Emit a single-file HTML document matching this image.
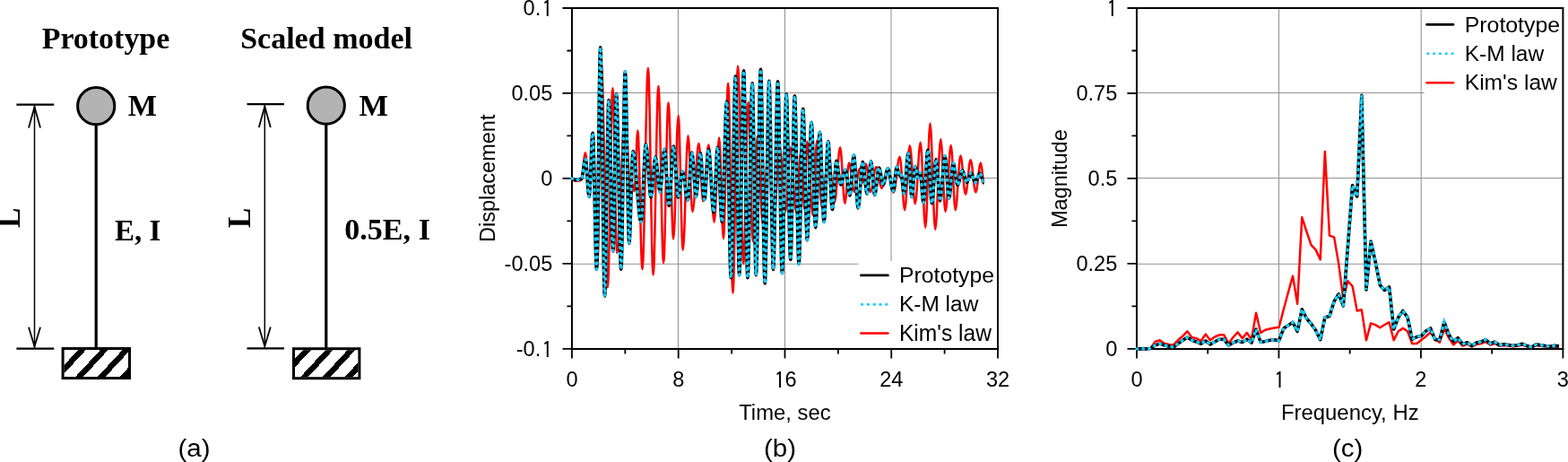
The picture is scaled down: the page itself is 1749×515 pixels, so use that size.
<!DOCTYPE html>
<html><head><meta charset="utf-8"><title>Figure</title>
<style>html,body{margin:0;padding:0;background:#fff;overflow:hidden}svg{display:block}</style>
</head><body>
<svg width="1749" height="515" viewBox="0 0 1749 515">
<rect width="1749" height="515" fill="#fff"/>
<text transform="translate(46.69,53.59) scale(0.9886,1)" font-family="'Liberation Serif', 'Times New Roman', serif" font-weight="bold" font-size="34.34">Prototype</text>
<text transform="translate(268.13,53.7) scale(0.992,1)" font-family="'Liberation Serif', 'Times New Roman', serif" font-weight="bold" font-size="34.3">Scaled model</text>
<text transform="translate(142.69,129) scale(1.0020,1)" font-family="'Liberation Serif', 'Times New Roman', serif" font-weight="bold" font-size="34.15">M</text>
<text transform="translate(400.48,129) scale(1.0027,1)" font-family="'Liberation Serif', 'Times New Roman', serif" font-weight="bold" font-size="34.46">M</text>
<text transform="translate(128,267.68) scale(0.9629,1)" font-family="'Liberation Serif', 'Times New Roman', serif" font-weight="bold" font-size="34.32">E, I</text>
<text transform="translate(384.24,267.49) scale(0.9955,1)" font-family="'Liberation Serif', 'Times New Roman', serif" font-weight="bold" font-size="34.27">0.5E, I</text>
<text transform="translate(22.4,254) rotate(-90) scale(0.9451,1)" font-family="'Liberation Serif', 'Times New Roman', serif" font-weight="bold" font-size="35.38">L</text>
<text transform="translate(279.3,254) rotate(-90) scale(0.9384,1)" font-family="'Liberation Serif', 'Times New Roman', serif" font-weight="bold" font-size="35.46">L</text>
<path d="M18.4 116.6H60.3M18.4 388.6H60.3" stroke="#000" stroke-width="2.1" fill="none"/>
<path d="M38.5 117.6V387.6" stroke="#000" stroke-width="1.5" fill="none"/>
<path d="M32 142.4L38.5 119.2L45 142.4M32 364.8L38.5 386.2L45 364.8" stroke="#000" stroke-width="1.8" fill="none" stroke-linejoin="miter" stroke-miterlimit="20"/>
<path d="M107.2 138.2V388" stroke="#000" stroke-width="3.2"/>
<circle cx="107.2" cy="118.2" r="20.6" fill="#b3b3b3" stroke="#000" stroke-width="3"/>
<clipPath id="c1"><rect x="71.6" y="390" width="71.4" height="30"/></clipPath>
<path clip-path="url(#c1)" d="M26.53 380L-19.7 430M51.28 380L5.05 430M76.03 380L29.8 430M100.78 380L54.55 430M125.53 380L79.3 430M150.28 380L104.05 430M175.03 380L128.8 430M199.78 380L153.55 430" stroke="#000" stroke-width="6.4" fill="none" shape-rendering="crispEdges"/>
<rect x="70.1" y="388.5" width="74.4" height="33" fill="none" stroke="#000" stroke-width="3.0"/>
<path d="M275.5 116.1H317M275.5 388.4H317" stroke="#000" stroke-width="2.1" fill="none"/>
<path d="M295.3 117.1V387.4" stroke="#000" stroke-width="1.5" fill="none"/>
<path d="M288.8 141.9L295.3 118.7L301.8 141.9M288.8 364.6L295.3 386L301.8 364.6" stroke="#000" stroke-width="1.8" fill="none" stroke-linejoin="miter" stroke-miterlimit="20"/>
<path d="M363.8 137.7V388.2" stroke="#000" stroke-width="3.2"/>
<circle cx="363.8" cy="117.7" r="20.6" fill="#b3b3b3" stroke="#000" stroke-width="3"/>
<clipPath id="c2"><rect x="329" y="390.2" width="70.4" height="30"/></clipPath>
<path clip-path="url(#c2)" d="M302.2 380.2L255.97 430.2M326.95 380.2L280.72 430.2M351.7 380.2L305.47 430.2M376.45 380.2L330.22 430.2M401.2 380.2L354.97 430.2M425.95 380.2L379.72 430.2M450.7 380.2L404.47 430.2" stroke="#000" stroke-width="6.4" fill="none" shape-rendering="crispEdges"/>
<rect x="327.5" y="388.7" width="73.4" height="33" fill="none" stroke="#000" stroke-width="3.0"/>
<text transform="translate(216.45,508.9) scale(1.0400,1)" font-family="'Liberation Sans', Arial, Helvetica, sans-serif" font-size="28.40" text-anchor="middle">(a)</text>
<text transform="translate(870.05,508.9) scale(1.0400,1)" font-family="'Liberation Sans', Arial, Helvetica, sans-serif" font-size="28.40" text-anchor="middle">(b)</text>
<text transform="translate(1503.2,508.9) scale(1.0400,1)" font-family="'Liberation Sans', Arial, Helvetica, sans-serif" font-size="28.40" text-anchor="middle">(c)</text>
<path d="M756.5 9V388.9M875.5 9V388.9M994 9V388.9M637.95 103.5H1113M637.95 198.5H1113M637.95 294.3H1113" stroke="#929292" stroke-width="1.05" fill="none"/>
<rect x="957.5" y="291" width="155.5" height="97.9" fill="#fff"/>
<path d="M637.95 9H1113V388.9H637.95Z" stroke="#000" stroke-width="2" fill="none" stroke-linejoin="miter"/>
<path d="M637.95 388.9v10.5M756.71 388.9v10.5M875.48 388.9v10.5M994.24 388.9v10.5M1113 388.9v10.5M697.33 388.9v5.5M816.09 388.9v5.5M934.86 388.9v5.5M1053.62 388.9v5.5M637.95 9h-10.5M637.95 103.97h-10.5M637.95 198.95h-10.5M637.95 293.92h-10.5M637.95 388.9h-10.5M637.95 56.49h-5.5M637.95 151.46h-5.5M637.95 246.44h-5.5M637.95 341.41h-5.5" stroke="#000" stroke-width="1.8" fill="none"/>
<path d="M637.8 199.6C639.14 199.6 640.16 201.8 641.5 201.8C642.95 201.8 644.05 201.6 645.5 201.6C646.59 201.6 647.41 200.5 648.5 200.5C650.14 200.5 651.36 170.2 653 170.2C654.56 170.2 655.74 218 657.3 218C658.83 218 659.97 148 661.5 148C663.24 148 664.56 296 666.3 296C667.94 296 669.16 72 670.8 72C673.34 72 675.26 320.2 677.8 320.2C679.84 320.2 681.36 98.3 683.4 98.3C685.18 98.3 686.52 282 688.3 282C691.64 282 694.16 125 697.5 125C699.68 125 701.32 222 703.5 222C704.23 222 704.77 205 705.5 205C706.26 205 706.84 213.3 707.6 213.3C708.94 213.3 709.96 145.4 711.3 145.4C713.19 145.4 714.61 300.2 716.5 300.2C718.83 300.2 720.57 75.7 722.9 75.7C724.97 75.7 726.53 306.6 728.6 306.6C730.71 306.6 732.29 96 734.4 96C736.47 96 738.03 293.2 740.1 293.2C742.06 293.2 743.54 114.6 745.5 114.6C747.57 114.6 749.13 266.5 751.2 266.5C753.16 266.5 754.64 129 756.6 129C758.49 129 759.91 278.6 761.8 278.6C763.87 278.6 765.43 151.2 767.5 151.2C769.28 151.2 770.62 236 772.4 236C774.98 236 776.92 159.7 779.5 159.7C781.21 159.7 782.49 224.2 784.2 224.2C786.45 224.2 788.15 161.2 790.4 161.2C792.65 161.2 794.35 247.5 796.6 247.5C798.64 247.5 800.16 153.5 802.2 153.5C803.91 153.5 805.19 266.2 806.9 266.2C808.83 266.2 810.27 92.8 812.2 92.8C814.13 92.8 815.57 326.8 817.5 326.8C819.5 326.8 821 73.6 823 73.6C825.29 73.6 827.01 294.1 829.3 294.1C831.23 294.1 832.67 114 834.6 114C836.6 114 838.1 269.3 840.1 269.3C841.81 269.3 843.09 151.9 844.8 151.9C847.05 151.9 848.75 250 851 250C853.18 250 854.82 162 857 162C859.18 162 860.82 242 863 242C865.54 242 867.46 165 870 165C872.18 165 873.82 236 876 236C878.11 236 879.69 164.3 881.8 164.3C884.05 164.3 885.75 236 888 236C890 236 891.5 168 893.5 168C894.88 168 895.92 233.5 897.3 233.5C898.43 233.5 899.27 157.5 900.4 157.5C902.65 157.5 904.35 239.7 906.6 239.7C908.31 239.7 909.59 156.6 911.3 156.6C913.37 156.6 914.93 232 917 232C919.54 232 921.46 172 924 172C926.54 172 928.46 225 931 225C933.22 225 934.88 164.3 937.1 164.3C939.03 164.3 940.47 226.7 942.4 226.7C944.07 226.7 945.33 181.4 947 181.4C949.18 181.4 950.82 214 953 214C955.18 214 956.82 188 959 188C960.09 188 960.91 204 962 204C963.34 204 964.36 182.4 965.7 182.4C967.63 182.4 969.07 214 971 214C973.36 214 975.14 186 977.5 186C979.61 186 981.19 210 983.3 210C985.84 210 987.76 187.8 990.3 187.8C992.66 187.8 994.44 214.6 996.8 214.6C999.27 214.6 1001.13 174.8 1003.6 174.8C1005.64 174.8 1007.16 234.2 1009.2 234.2C1011.24 234.2 1012.76 162.2 1014.8 162.2C1016.98 162.2 1018.62 227.2 1020.8 227.2C1022.94 227.2 1024.56 158.8 1026.7 158.8C1028.74 158.8 1030.26 253.7 1032.3 253.7C1034.19 253.7 1035.61 137.4 1037.5 137.4C1039.57 137.4 1041.13 256 1043.2 256C1045.42 256 1047.08 155.2 1049.3 155.2C1051.23 155.2 1052.67 236 1054.6 236C1056.82 236 1058.48 162 1060.7 162C1062.52 162 1063.88 234.3 1065.7 234.3C1067.77 234.3 1069.33 173.5 1071.4 173.5C1073.44 173.5 1074.96 216.5 1077 216.5C1079.04 216.5 1080.56 178.2 1082.6 178.2C1084.67 178.2 1086.23 214.3 1088.3 214.3C1090.37 214.3 1091.93 181.6 1094 181.6C1095.27 181.6 1096.23 203.5 1097.5 203.5" stroke="#ff0000" stroke-width="2.5" fill="none" stroke-linejoin="round"/>
<path d="M637.8 199C639.14 199 640.16 200.6 641.5 200.6C642.95 200.6 644.05 200.3 645.5 200.3C646.59 200.3 647.41 199.5 648.5 199.5C650.14 199.5 651.36 177.5 653 177.5C654.49 177.5 655.61 219.5 657.1 219.5C658.55 219.5 659.65 148.3 661.1 148.3C662.7 148.3 663.9 300.2 665.5 300.2C667.03 300.2 668.17 52.7 669.7 52.7C671.44 52.7 672.76 330 674.5 330C676.14 330 677.36 111.6 679 111.6C680.74 111.6 682.06 280 683.8 280C685.14 280 686.16 104.9 687.5 104.9C689.43 104.9 690.87 300.2 692.8 300.2C694.44 300.2 695.66 80 697.3 80C698.94 80 700.16 271.3 701.8 271.3C703.33 271.3 704.47 168.5 706 168.5C709.27 168.5 711.73 247.3 715 247.3C716.96 247.3 718.44 160.8 720.4 160.8C722.51 160.8 724.09 220 726.2 220C727.98 220 729.32 174.9 731.1 174.9C732.95 174.9 734.35 214 736.2 214C737.98 214 739.32 166.2 741.1 166.2C742.99 166.2 744.41 229.4 746.3 229.4C748.08 229.4 749.42 163.1 751.2 163.1C753.13 163.1 754.57 220 756.5 220C758.24 220 759.56 191 761.3 191C763.41 191 764.99 223.2 767.1 223.2C768.81 223.2 770.09 170 771.8 170C773.47 170 774.73 219.5 776.4 219.5C778.11 219.5 779.39 170.6 781.1 170.6C782.77 170.6 784.03 222.6 785.7 222.6C787.41 222.6 788.69 166.8 790.4 166.8C792.44 166.8 793.96 236.6 796 236.6C797.6 236.6 798.8 164.3 800.4 164.3C802.18 164.3 803.52 247.5 805.3 247.5C807.23 247.5 808.67 113 810.6 113C812.31 113 813.59 309.7 815.3 309.7C817.12 309.7 818.48 85.1 820.3 85.1C821.86 85.1 823.04 306.6 824.6 306.6C826.42 306.6 827.78 78.9 829.6 78.9C831.16 78.9 832.34 309.7 833.9 309.7C835.83 309.7 837.27 92.8 839.2 92.8C840.69 92.8 841.81 306.6 843.3 306.6C845.19 306.6 846.61 77.3 848.5 77.3C850.21 77.3 851.49 315.9 853.2 315.9C854.91 315.9 856.19 90.4 857.9 90.4C859.57 90.4 860.83 300.4 862.5 300.4C864.35 300.4 865.75 90.9 867.6 90.9C869.34 90.9 870.66 304.4 872.4 304.4C874.11 304.4 875.39 104.7 877.1 104.7C878.81 104.7 880.09 289.5 881.8 289.5C883.47 289.5 884.73 106.8 886.4 106.8C888.11 106.8 889.39 294.1 891.1 294.1C892.77 294.1 894.03 121.4 895.7 121.4C897.41 121.4 898.69 267.7 900.4 267.7C902.11 267.7 903.39 136.4 905.1 136.4C906.77 136.4 908.03 253.7 909.7 253.7C911.41 253.7 912.69 147.2 914.4 147.2C916.11 147.2 917.39 247.5 919.1 247.5C920.77 247.5 922.03 157.5 923.7 157.5C925.41 157.5 926.69 233.5 928.4 233.5C930.07 233.5 931.33 179.3 933 179.3C934.71 179.3 935.99 206 937.7 206C939.63 206 941.07 189.2 943 189.2C944.82 189.2 946.18 218 948 218C949.56 218 950.74 173 952.3 173C954.12 173 955.48 232 957.3 232C959.08 232 960.42 180.3 962.2 180.3C963.98 180.3 965.32 216 967.1 216C968.74 216 969.96 179.7 971.6 179.7C973.05 179.7 974.15 217.5 975.6 217.5C977.38 217.5 978.72 187 980.5 187C982.21 187 983.49 206 985.2 206C987.05 206 988.45 187.7 990.3 187.7C992.44 187.7 994.06 213 996.2 213C997.69 213 998.81 186 1000.3 186C1001.46 186 1002.34 196 1003.5 196C1004.05 196 1004.45 194.5 1005 194.5C1006.27 194.5 1007.23 216 1008.5 216C1010.14 216 1011.36 170.5 1013 170.5C1014.49 170.5 1015.61 219.5 1017.1 219.5C1018.52 219.5 1019.58 185.3 1021 185.3C1022.09 185.3 1022.91 198 1024 198C1024.87 198 1025.53 192.5 1026.4 192.5C1027.71 192.5 1028.69 226 1030 226C1031.82 226 1033.18 167.3 1035 167.3C1036.64 167.3 1037.86 226.6 1039.5 226.6C1041.17 226.6 1042.43 177.6 1044.1 177.6C1045.7 177.6 1046.9 223.9 1048.5 223.9C1050.5 223.9 1052 173.5 1054 173.5C1055.67 173.5 1056.93 221.2 1058.6 221.2C1060.27 221.2 1061.53 181.7 1063.2 181.7C1064.98 181.7 1066.32 206.2 1068.1 206.2C1070.06 206.2 1071.54 189.9 1073.5 189.9C1075.28 189.9 1076.62 203.5 1078.4 203.5C1080.11 203.5 1081.39 192.6 1083.1 192.6C1084.77 192.6 1086.03 203.5 1087.7 203.5C1089.66 203.5 1091.14 193.1 1093.1 193.1C1094.7 193.1 1095.9 204 1097.5 204" stroke="#000" stroke-width="3.6" fill="none" stroke-linejoin="round"/>
<path d="M637.8 199C639.14 199 640.16 200.6 641.5 200.6C642.95 200.6 644.05 200.3 645.5 200.3C646.59 200.3 647.41 199.5 648.5 199.5C650.14 199.5 651.36 177.5 653 177.5C654.49 177.5 655.61 219.5 657.1 219.5C658.55 219.5 659.65 148.3 661.1 148.3C662.7 148.3 663.9 300.2 665.5 300.2C667.03 300.2 668.17 52.7 669.7 52.7C671.44 52.7 672.76 330 674.5 330C676.14 330 677.36 111.6 679 111.6C680.74 111.6 682.06 280 683.8 280C685.14 280 686.16 104.9 687.5 104.9C689.43 104.9 690.87 300.2 692.8 300.2C694.44 300.2 695.66 80 697.3 80C698.94 80 700.16 271.3 701.8 271.3C703.33 271.3 704.47 168.5 706 168.5C709.27 168.5 711.73 247.3 715 247.3C716.96 247.3 718.44 160.8 720.4 160.8C722.51 160.8 724.09 220 726.2 220C727.98 220 729.32 174.9 731.1 174.9C732.95 174.9 734.35 214 736.2 214C737.98 214 739.32 166.2 741.1 166.2C742.99 166.2 744.41 229.4 746.3 229.4C748.08 229.4 749.42 163.1 751.2 163.1C753.13 163.1 754.57 220 756.5 220C758.24 220 759.56 191 761.3 191C763.41 191 764.99 223.2 767.1 223.2C768.81 223.2 770.09 170 771.8 170C773.47 170 774.73 219.5 776.4 219.5C778.11 219.5 779.39 170.6 781.1 170.6C782.77 170.6 784.03 222.6 785.7 222.6C787.41 222.6 788.69 166.8 790.4 166.8C792.44 166.8 793.96 236.6 796 236.6C797.6 236.6 798.8 164.3 800.4 164.3C802.18 164.3 803.52 247.5 805.3 247.5C807.23 247.5 808.67 113 810.6 113C812.31 113 813.59 309.7 815.3 309.7C817.12 309.7 818.48 85.1 820.3 85.1C821.86 85.1 823.04 306.6 824.6 306.6C826.42 306.6 827.78 78.9 829.6 78.9C831.16 78.9 832.34 309.7 833.9 309.7C835.83 309.7 837.27 92.8 839.2 92.8C840.69 92.8 841.81 306.6 843.3 306.6C845.19 306.6 846.61 77.3 848.5 77.3C850.21 77.3 851.49 315.9 853.2 315.9C854.91 315.9 856.19 90.4 857.9 90.4C859.57 90.4 860.83 300.4 862.5 300.4C864.35 300.4 865.75 90.9 867.6 90.9C869.34 90.9 870.66 304.4 872.4 304.4C874.11 304.4 875.39 104.7 877.1 104.7C878.81 104.7 880.09 289.5 881.8 289.5C883.47 289.5 884.73 106.8 886.4 106.8C888.11 106.8 889.39 294.1 891.1 294.1C892.77 294.1 894.03 121.4 895.7 121.4C897.41 121.4 898.69 267.7 900.4 267.7C902.11 267.7 903.39 136.4 905.1 136.4C906.77 136.4 908.03 253.7 909.7 253.7C911.41 253.7 912.69 147.2 914.4 147.2C916.11 147.2 917.39 247.5 919.1 247.5C920.77 247.5 922.03 157.5 923.7 157.5C925.41 157.5 926.69 233.5 928.4 233.5C930.07 233.5 931.33 179.3 933 179.3C934.71 179.3 935.99 206 937.7 206C939.63 206 941.07 189.2 943 189.2C944.82 189.2 946.18 218 948 218C949.56 218 950.74 173 952.3 173C954.12 173 955.48 232 957.3 232C959.08 232 960.42 180.3 962.2 180.3C963.98 180.3 965.32 216 967.1 216C968.74 216 969.96 179.7 971.6 179.7C973.05 179.7 974.15 217.5 975.6 217.5C977.38 217.5 978.72 187 980.5 187C982.21 187 983.49 206 985.2 206C987.05 206 988.45 187.7 990.3 187.7C992.44 187.7 994.06 213 996.2 213C997.69 213 998.81 186 1000.3 186C1001.46 186 1002.34 196 1003.5 196C1004.05 196 1004.45 194.5 1005 194.5C1006.27 194.5 1007.23 216 1008.5 216C1010.14 216 1011.36 170.5 1013 170.5C1014.49 170.5 1015.61 219.5 1017.1 219.5C1018.52 219.5 1019.58 185.3 1021 185.3C1022.09 185.3 1022.91 198 1024 198C1024.87 198 1025.53 192.5 1026.4 192.5C1027.71 192.5 1028.69 226 1030 226C1031.82 226 1033.18 167.3 1035 167.3C1036.64 167.3 1037.86 226.6 1039.5 226.6C1041.17 226.6 1042.43 177.6 1044.1 177.6C1045.7 177.6 1046.9 223.9 1048.5 223.9C1050.5 223.9 1052 173.5 1054 173.5C1055.67 173.5 1056.93 221.2 1058.6 221.2C1060.27 221.2 1061.53 181.7 1063.2 181.7C1064.98 181.7 1066.32 206.2 1068.1 206.2C1070.06 206.2 1071.54 189.9 1073.5 189.9C1075.28 189.9 1076.62 203.5 1078.4 203.5C1080.11 203.5 1081.39 192.6 1083.1 192.6C1084.77 192.6 1086.03 203.5 1087.7 203.5C1089.66 203.5 1091.14 193.1 1093.1 193.1C1094.7 193.1 1095.9 204 1097.5 204" stroke="#12cdfd" stroke-width="3.4" fill="none" stroke-dasharray="0.9 5.9" stroke-linecap="round"/>
<path d="M960.4 306.9H990.4" stroke="#000" stroke-width="2.7" stroke-linecap="round"/>
<path d="M961.2 339.4H991.7" stroke="#12cdfd" stroke-width="2.6" stroke-dasharray="0.8 6.0" stroke-linecap="round"/>
<path d="M960.3 371.5H990.5" stroke="#ff0000" stroke-width="2.4" stroke-linecap="round"/>
<text transform="translate(1002.91,315.4) scale(1.0223,1)" font-family="'Liberation Sans', Arial, Helvetica, sans-serif" font-size="24.27">Prototype</text>
<text transform="translate(1002.94,347.3) scale(1.0215,1)" font-family="'Liberation Sans', Arial, Helvetica, sans-serif" font-size="23.98">K-M law</text>
<text transform="translate(1002.93,379.9) scale(0.9904,1)" font-family="'Liberation Sans', Arial, Helvetica, sans-serif" font-size="24.85">Kim&#39;s law</text>
<text transform="translate(583.54,17.45) scale(0.9660,1)" font-family="'Liberation Sans', Arial, Helvetica, sans-serif" font-size="24.40">0.</text><text transform="translate(604.62,18.68) scale(0.9660,1)" font-family="IPAGothic, 'Liberation Sans', sans-serif" font-size="24.60">1</text>
<text transform="translate(616.3,112.42) scale(0.9660,1)" font-family="'Liberation Sans', Arial, Helvetica, sans-serif" font-size="24.40" text-anchor="end">0.05</text>
<text transform="translate(616.3,207.4) scale(0.9660,1)" font-family="'Liberation Sans', Arial, Helvetica, sans-serif" font-size="24.40" text-anchor="end">0</text>
<text transform="translate(616.3,302.37) scale(0.9660,1)" font-family="'Liberation Sans', Arial, Helvetica, sans-serif" font-size="24.40" text-anchor="end">-0.05</text>
<text transform="translate(575.69,397.35) scale(0.9660,1)" font-family="'Liberation Sans', Arial, Helvetica, sans-serif" font-size="24.40">-0.</text><text transform="translate(604.62,398.58) scale(0.9660,1)" font-family="IPAGothic, 'Liberation Sans', sans-serif" font-size="24.60">1</text>
<text transform="translate(637.95,431.4) scale(0.9660,1)" font-family="'Liberation Sans', Arial, Helvetica, sans-serif" font-size="24.40" text-anchor="middle">0</text>
<text transform="translate(756.71,431.4) scale(0.9660,1)" font-family="'Liberation Sans', Arial, Helvetica, sans-serif" font-size="24.40" text-anchor="middle">8</text>
<text transform="translate(863.8,432.63) scale(0.9660,1)" font-family="IPAGothic, 'Liberation Sans', sans-serif" font-size="24.60">1</text><text transform="translate(875.48,431.4) scale(0.9660,1)" font-family="'Liberation Sans', Arial, Helvetica, sans-serif" font-size="24.40">6</text>
<text transform="translate(994.24,431.4) scale(0.9660,1)" font-family="'Liberation Sans', Arial, Helvetica, sans-serif" font-size="24.40" text-anchor="middle">24</text>
<text transform="translate(1113,431.4) scale(0.9660,1)" font-family="'Liberation Sans', Arial, Helvetica, sans-serif" font-size="24.40" text-anchor="middle">32</text>
<text transform="translate(824.2,468) scale(0.9592,1)" font-family="'Liberation Sans', Arial, Helvetica, sans-serif" font-size="24.85">Time, sec</text>
<text transform="translate(551.68,270.08) rotate(-90) scale(1.0055,1)" font-family="'Liberation Sans', Arial, Helvetica, sans-serif" font-size="23.42">Displacement</text>
<path d="M1426.5 9V388.9M1585.2 9V388.9M1267.95 294.3H1743.4M1267.95 198.5H1743.4M1267.95 103.5H1743.4" stroke="#929292" stroke-width="1.05" fill="none"/>
<rect x="1588.6" y="9" width="154.8" height="97.5" fill="#fff"/>
<path d="M1267.95 9H1743.4V388.9H1267.95Z" stroke="#000" stroke-width="2" fill="none" stroke-linejoin="miter"/>
<path d="M1267.95 388.9v10.5M1426.43 388.9v10.5M1584.92 388.9v10.5M1743.4 388.9v10.5M1347.19 388.9v5.5M1505.68 388.9v5.5M1664.16 388.9v5.5M1267.95 388.9h-10.5M1267.95 293.92h-10.5M1267.95 198.95h-10.5M1267.95 103.98h-10.5M1267.95 9h-10.5M1267.95 341.41h-5.5M1267.95 246.44h-5.5M1267.95 151.46h-5.5M1267.95 56.49h-5.5" stroke="#000" stroke-width="1.8" fill="none"/>
<path d="M1267.95 388.9L1273.07 388.9L1278.19 388.9L1283.31 388.2L1288.43 380.9L1293.55 379.3L1298.67 382.7L1303.79 384L1308.91 384.4L1314.03 379L1319.15 374.8L1324.27 369.3L1329.39 376L1334.51 377.1L1339.63 380L1344.75 372.6L1349.87 379.3L1354.99 375.5L1360.11 373.3L1365.23 373.3L1370.35 382.7L1375.47 376L1380.59 370.4L1385.71 377.1L1390.83 371L1395.95 378.2L1401.07 348.7L1406.19 371L1411.31 367.7L1416.43 366.5L1421.55 365.5L1426.67 364.8L1431.79 345L1436.91 326L1442.03 307.6L1447.15 338.7L1452.27 242.2L1457.39 258L1462.51 273.1L1467.63 278.4L1472.75 289.4L1477.87 168.9L1482.99 262.6L1488.11 264.4L1493.23 294.3L1498.35 333L1503.47 313.2L1508.59 319.1L1513.71 346.5L1518.83 345.2L1523.95 379.3L1529.07 360.4L1534.19 362.1L1539.31 365.3L1544.43 362L1549.55 359.2L1554.67 379.3L1559.79 369.3L1564.91 365.9L1570.03 369.3L1575.15 383.1L1580.27 383.1L1585.39 379L1590.51 375L1595.63 370.4L1600.75 378L1605.87 381.7L1610.99 366.6L1616.11 376.7L1621.23 384.3L1626.35 379.8L1631.47 385.5L1636.59 383.5L1641.71 386.5L1646.83 384L1651.95 383L1657.07 381L1662.19 384.5L1667.31 383L1672.43 385.5L1677.55 385L1682.67 385.5L1687.79 386.2L1692.91 385.7L1698.03 384.5L1703.15 386.2L1708.27 387.5L1713.39 385L1718.51 385.7L1723.63 386.3L1728.75 386.8L1733.87 386.2L1738.99 386.7" stroke="#ff0000" stroke-width="2.5" fill="none" stroke-linejoin="round"/>
<path d="M1267.95 388.9L1273.07 388.9L1278.19 388.9L1283.31 388.5L1288.43 384.9L1293.55 383.1L1298.67 384.9L1303.79 386L1308.91 387.1L1314.03 383.1L1319.15 379.5L1324.27 376L1329.39 379.3L1334.51 381L1339.63 383.1L1344.75 380L1349.87 383.8L1354.99 381L1360.11 378.2L1365.23 378.2L1370.35 384.9L1375.47 382L1380.59 380L1385.71 381.5L1390.83 378.2L1395.95 382.2L1401.07 367L1406.19 381.5L1411.31 380.5L1416.43 379.3L1421.55 378.8L1426.67 379.7L1431.79 366L1436.91 362.7L1442.03 359.3L1447.15 369.5L1452.27 344.8L1457.39 355L1462.51 361L1467.63 368.3L1472.75 378.7L1477.87 353.7L1482.99 352.5L1488.11 336L1493.23 327.8L1498.35 340.9L1503.47 274L1508.59 206.6L1513.71 219L1518.83 106.3L1523.95 323L1529.07 269L1534.19 292L1539.31 317.7L1544.43 323.5L1549.55 320L1554.67 367L1559.79 353.7L1564.91 346.5L1570.03 353.7L1575.15 378.2L1580.27 375.5L1585.39 374.5L1590.51 369L1595.63 366L1600.75 378.6L1605.87 378.6L1610.99 359L1616.11 372.9L1621.23 380.5L1626.35 376.7L1631.47 383.6L1636.59 381.7L1641.71 385.5L1646.83 382L1651.95 381.1L1657.07 378.6L1662.19 383L1667.31 381.1L1672.43 384.7L1677.55 383.9L1682.67 384.5L1687.79 385.4L1692.91 384.7L1698.03 383.3L1703.15 385.4L1708.27 387L1713.39 383.9L1718.51 384.7L1723.63 385.5L1728.75 386.2L1733.87 385.4L1738.99 385.9" stroke="#000" stroke-width="3.6" fill="none" stroke-linejoin="round"/>
<path d="M1267.95 388.9L1273.07 388.9L1278.19 388.9L1283.31 388.5L1288.43 384.9L1293.55 383.1L1298.67 384.9L1303.79 386L1308.91 387.1L1314.03 383.1L1319.15 379.5L1324.27 376L1329.39 379.3L1334.51 381L1339.63 383.1L1344.75 380L1349.87 383.8L1354.99 381L1360.11 378.2L1365.23 378.2L1370.35 384.9L1375.47 382L1380.59 380L1385.71 381.5L1390.83 378.2L1395.95 382.2L1401.07 367L1406.19 381.5L1411.31 380.5L1416.43 379.3L1421.55 378.8L1426.67 379.7L1431.79 366L1436.91 362.7L1442.03 359.3L1447.15 369.5L1452.27 344.8L1457.39 355L1462.51 361L1467.63 368.3L1472.75 378.7L1477.87 353.7L1482.99 352.5L1488.11 336L1493.23 327.8L1498.35 340.9L1503.47 274L1508.59 206.6L1513.71 219L1518.83 106.3L1523.95 323L1529.07 269L1534.19 292L1539.31 317.7L1544.43 323.5L1549.55 320L1554.67 367L1559.79 353.7L1564.91 346.5L1570.03 353.7L1575.15 378.2L1580.27 375.5L1585.39 374.5L1590.51 369L1595.63 366L1600.75 378.6L1605.87 378.6L1610.99 359L1616.11 372.9L1621.23 380.5L1626.35 376.7L1631.47 383.6L1636.59 381.7L1641.71 385.5L1646.83 382L1651.95 381.1L1657.07 378.6L1662.19 383L1667.31 381.1L1672.43 384.7L1677.55 383.9L1682.67 384.5L1687.79 385.4L1692.91 384.7L1698.03 383.3L1703.15 385.4L1708.27 387L1713.39 383.9L1718.51 384.7L1723.63 385.5L1728.75 386.2L1733.87 385.4L1738.99 385.9" stroke="#12cdfd" stroke-width="3.4" fill="none" stroke-dasharray="0.9 5.9" stroke-linecap="round"/>
<path d="M1591.6 27.3H1621" stroke="#000" stroke-width="2.7" stroke-linecap="round"/>
<path d="M1592.4 59.8H1622.3" stroke="#12cdfd" stroke-width="2.6" stroke-dasharray="0.8 6.0" stroke-linecap="round"/>
<path d="M1591.5 92.3H1621.1" stroke="#ff0000" stroke-width="2.4" stroke-linecap="round"/>
<text transform="translate(1633.71,35.9) scale(1.0304,1)" font-family="'Liberation Sans', Arial, Helvetica, sans-serif" font-size="24.13">Prototype</text>
<text transform="translate(1633.74,67.9) scale(1.0215,1)" font-family="'Liberation Sans', Arial, Helvetica, sans-serif" font-size="23.98">K-M law</text>
<text transform="translate(1633.73,100.4) scale(0.9963,1)" font-family="'Liberation Sans', Arial, Helvetica, sans-serif" font-size="24.71">Kim&#39;s law</text>
<text transform="translate(1234.62,18.68) scale(0.9660,1)" font-family="IPAGothic, 'Liberation Sans', sans-serif" font-size="24.60">1</text>
<text transform="translate(1246.3,112.43) scale(0.9660,1)" font-family="'Liberation Sans', Arial, Helvetica, sans-serif" font-size="24.40" text-anchor="end">0.75</text>
<text transform="translate(1246.3,207.4) scale(0.9660,1)" font-family="'Liberation Sans', Arial, Helvetica, sans-serif" font-size="24.40" text-anchor="end">0.5</text>
<text transform="translate(1246.3,302.37) scale(0.9660,1)" font-family="'Liberation Sans', Arial, Helvetica, sans-serif" font-size="24.40" text-anchor="end">0.25</text>
<text transform="translate(1246.3,397.35) scale(0.9660,1)" font-family="'Liberation Sans', Arial, Helvetica, sans-serif" font-size="24.40" text-anchor="end">0</text>
<text transform="translate(1267.95,431.4) scale(0.9660,1)" font-family="'Liberation Sans', Arial, Helvetica, sans-serif" font-size="24.40" text-anchor="middle">0</text>
<text transform="translate(1421.31,432.63) scale(0.9660,1)" font-family="IPAGothic, 'Liberation Sans', sans-serif" font-size="24.60">1</text>
<text transform="translate(1584.92,431.4) scale(0.9660,1)" font-family="'Liberation Sans', Arial, Helvetica, sans-serif" font-size="24.40" text-anchor="middle">2</text>
<text transform="translate(1743.4,431.4) scale(0.9660,1)" font-family="'Liberation Sans', Arial, Helvetica, sans-serif" font-size="24.40" text-anchor="middle">3</text>
<text transform="translate(1428.89,467.6) scale(0.9914,1)" font-family="'Liberation Sans', Arial, Helvetica, sans-serif" font-size="24.13">Frequency, Hz</text>
<text transform="translate(1189.58,254.08) rotate(-90) scale(1.0051,1)" font-family="'Liberation Sans', Arial, Helvetica, sans-serif" font-size="23.42">Magnitude</text>
</svg>
</body></html>
